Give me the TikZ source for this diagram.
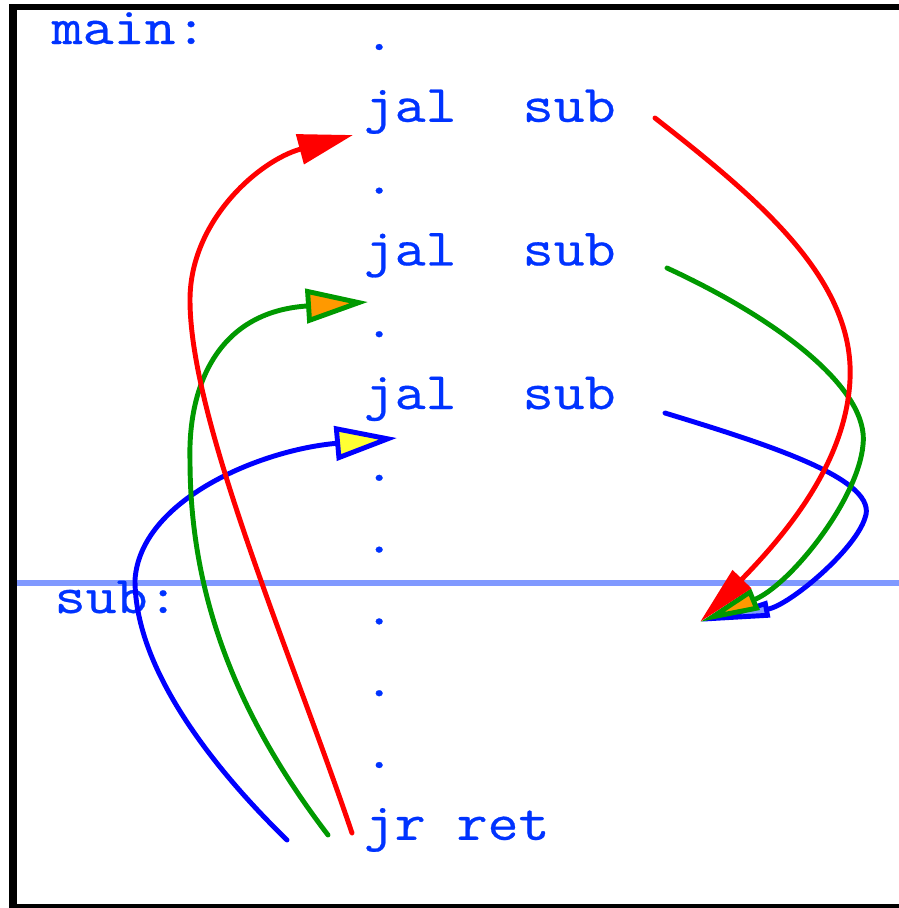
\documentclass[tikz,border=0pt]{standalone}
\usepackage{fontspec}
\newfontfamily\codefont{Latin Modern Mono}[FakeStretch=1.14,FakeBold=0.5]
\usepackage{xcolor}
\usetikzlibrary{arrows.meta}
\definecolor{codeblue}{RGB}{0,51,255}
\definecolor{linkred}{RGB}{255,0,0}
\definecolor{linkgreen}{RGB}{0,153,0}
\definecolor{linkblue}{RGB}{0,0,255}
\definecolor{headorange}{RGB}{255,153,0}
\definecolor{headyellow}{RGB}{255,255,51}
\definecolor{splitblue}{RGB}{128,153,255}

\begin{document}
\begin{tikzpicture}[x=0.01cm,y=-0.01cm]
\tikzset{code/.style={font=\codefont\fontsize{15}{18}\selectfont,text=codeblue,anchor=base west,inner sep=0pt},
         link/.style={line width=1.4pt,line cap=round}}
\def\xc{363}\def\yo{50}\def\rowh{71.8}
\useasboundingbox (0,0) rectangle (899,908);
% Frame
\fill (9,4) rectangle (899,10);
\fill (9,4) rectangle (17,908);
\fill (9,904) rectangle (899,908);
% main / sub split
\draw[splitblue,line width=1.7pt] (17,583) -- (899,583);
% Labels
\node[code] (lmain) at (51,44) {main:};
\node[code] (lsub) at (54,613) {sub:};
% Code column
\foreach \r in {0,2,4,6,7,8,9,10}
  \node[code] (dot\r) at (\xc,\yo+\r*\rowh) {.};
\node[code] (jal1) at (\xc,\yo+\rowh) {jal};
\node[code] (sub1) at (522,\yo+\rowh) {sub};
\node[code] (jal2) at (\xc,\yo+3*\rowh) {jal};
\node[code] (sub2) at (522,\yo+3*\rowh) {sub};
\node[code] (jal3) at (\xc,\yo+5*\rowh) {jal};
\node[code] (sub3) at (522,\yo+5*\rowh) {sub};
\node[code] (jr) at (\xc,\yo+11*\rowh) {jr ret};
% Ends of the links
\coordinate (entry) at (700,622);
\coordinate (call1) at (655,118);
\coordinate (call2) at (667,268);
\coordinate (call3) at (665,413);
\coordinate (back1) at (352,833);
\coordinate (back2) at (328,835);
\coordinate (back3) at (287,840);
\coordinate (ret1) at (353,135);
\coordinate (ret2) at (368,302);
\coordinate (ret3) at (397,438);
% Third call (blue)
\draw[link,linkblue,-{Triangle[length=0.7cm,width=0.16cm,fill=splitblue]}]
  (call3) .. controls (770,445) and (880,480) .. (865,518)
  .. controls (855,550) and (790,605) .. (entry);
\draw[link,linkblue,-{Triangle[length=0.62cm,width=0.34cm,fill=headyellow]}]
  (back3) .. controls (215,770) and (135,670) .. (135,580)
  .. controls (140,500) and (260,450) .. (ret3);
% Second call (green)
\draw[link,linkgreen,-{Triangle[length=0.6cm,width=0.22cm,fill=headorange]}]
  (call2) .. controls (780,320) and (870,390) .. (863,445)
  .. controls (858,500) and (790,585) .. (entry);
\draw[link,linkgreen,-{Triangle[length=0.62cm,width=0.34cm,fill=headorange]}]
  (back2) .. controls (240,720) and (190,600) .. (190,460)
  .. controls (188,390) and (215,312) .. (ret2);
% First call (red)
\draw[link,linkred,-{Triangle[length=0.6cm,width=0.25cm]}]
  (call1) .. controls (760,200) and (855,280) .. (850,380)
  .. controls (846,460) and (790,530) .. (entry);
\draw[link,linkred,-{Triangle[length=0.55cm,width=0.3cm]}]
  (back1) .. controls (290,650) and (190,420) .. (190,300)
  .. controls (190,220) and (260,160) .. (ret1);
\end{tikzpicture}
\end{document}
